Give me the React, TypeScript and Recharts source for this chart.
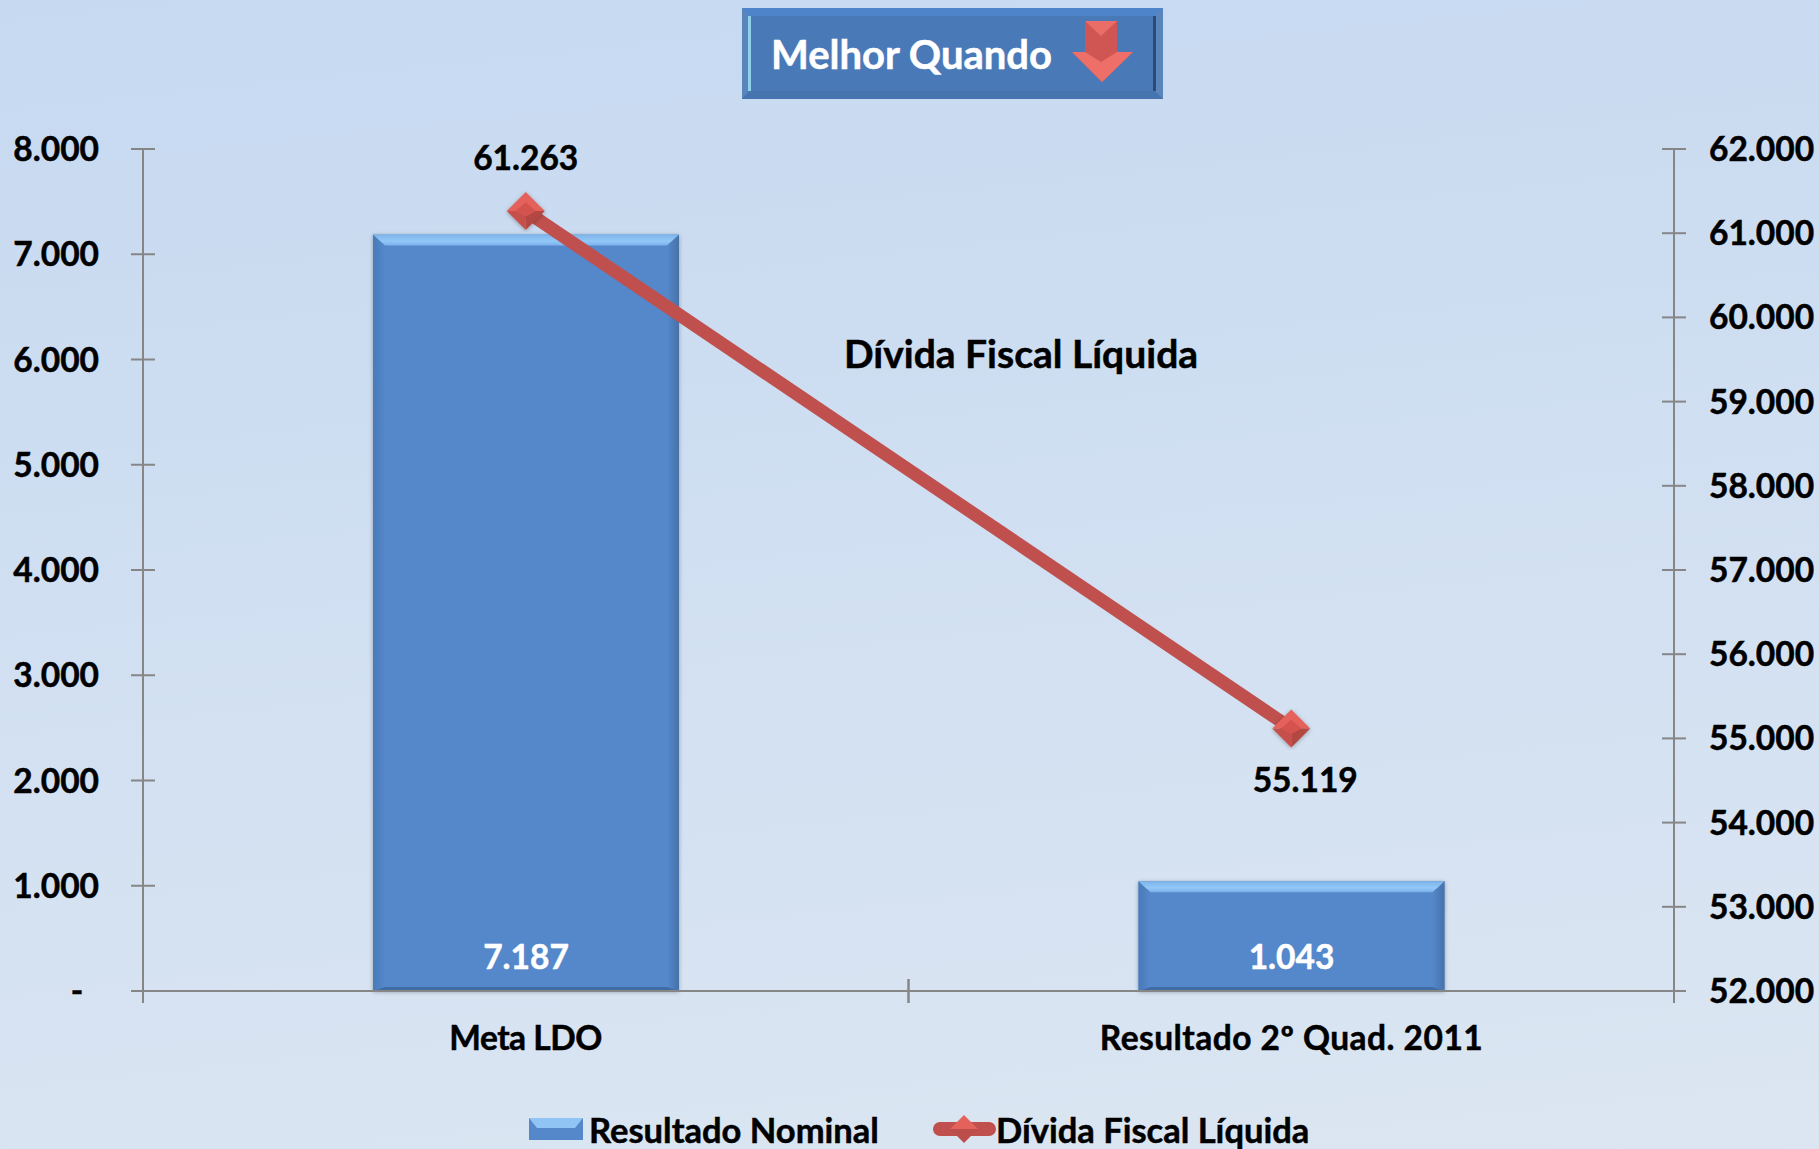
import { Bar, ComposedChart, LabelList, Legend, Line, XAxis, YAxis } from "recharts";

const WIDTH = 1819;
const HEIGHT = 1149;
const FONT = "Lato, sans-serif";
const THICK = { stroke: "#000", strokeWidth: 0.5 };

const categories = ["Meta LDO", "Resultado 2º Quad. 2011"];
const categoryWidths = [153, 383];
const resultadoNominal = [7187, 1043];
const dividaFiscal = [61263, 55119];
const leftTicks = [0, 1000, 2000, 3000, 4000, 5000, 6000, 7000, 8000];
const rightTicks = [52000, 53000, 54000, 55000, 56000, 57000, 58000, 59000, 60000, 61000, 62000];

const data = categories.map((name, i) => ({
    name,
    nominal: resultadoNominal[i],
    divida: dividaFiscal[i],
}));

const fmt = (v: number) => String(v).replace(/\B(?=(\d{3})+$)/g, ".");

function LeftTick({ x, y, payload }: any) {
    return (
        <g>
            <line x1={x - 12} x2={x + 12} y1={y} y2={y} stroke="#868686" strokeWidth={2} />
            <text
                x={payload.value === 0 ? x - 66 : x - 44}
                y={y}
                dy={12}
                textAnchor={payload.value === 0 ? "middle" : "end"}
                fontFamily={FONT}
                fontWeight={700}
                fontSize={33.5}
                fill="#000"
                {...THICK}
            >
                {payload.value === 0 ? "-" : fmt(payload.value)}
            </text>
        </g>
    );
}

function RightTick({ x, y, payload }: any) {
    return (
        <g>
            <line x1={x - 12} x2={x + 12} y1={y} y2={y} stroke="#868686" strokeWidth={2} />
            <text x={x + 35} y={y} dy={12} textAnchor="start" fontFamily={FONT} fontWeight={700} fontSize={33.5} fill="#000" {...THICK}>
                {fmt(payload.value)}
            </text>
        </g>
    );
}

function CategoryTick({ x, y, payload, index }: any) {
    const half = payload.offset ?? 0;
    return (
        <g>
            <line x1={x - half} x2={x - half} y1={y - 12} y2={y + 12} stroke="#868686" strokeWidth={2} />
            <line x1={x + half} x2={x + half} y1={y - 12} y2={y + 12} stroke="#868686" strokeWidth={2} />
            <text
                x={x}
                y={y}
                dy={59}
                textAnchor="middle"
                textLength={categoryWidths[index]}
                fontFamily={FONT}
                fontWeight={700}
                fontSize={33.5}
                fill="#000"
                {...THICK}
            >
                {payload.value}
            </text>
        </g>
    );
}

function BevelBar({ x, y, width, height }: any) {
    const t = Math.min(11, height / 4);
    const s = 12;
    const b = 4;
    const r = x + width;
    const e = y + height;
    return (
        <g filter="url(#barShadow)">
            <rect x={x} y={y} width={width} height={height} fill="#5587cb" />
            <polygon points={`${x},${y} ${x + s},${y + t} ${x + s},${e - b} ${x},${e}`} fill="url(#barLeft)" />
            <polygon points={`${r},${y} ${r - s},${y + t} ${r - s},${e - b} ${r},${e}`} fill="url(#barRight)" />
            <polygon points={`${x},${e} ${x + s},${e - b} ${r - s},${e - b} ${r},${e}`} fill="#3f6ca6" />
            <polygon points={`${x},${y} ${r},${y} ${r - s},${y + t} ${x + s},${y + t}`} fill="url(#barTop)" />
        </g>
    );
}

function Diamond({ cx, cy }: any) {
    const r = 19;
    return (
        <g filter="url(#barShadow)">
            <polygon points={`${cx - r},${cy} ${cx},${cy - r} ${cx + r},${cy}`} fill="#e5625c" />
            <polygon points={`${cx - r},${cy} ${cx},${cy + r} ${cx},${cy}`} fill="#c4504c" />
            <polygon points={`${cx + r},${cy} ${cx},${cy + r} ${cx},${cy}`} fill="#b34643" />
            <polygon points={`${cx - r * 0.55},${cy} ${cx},${cy - r * 0.45} ${cx + r * 0.55},${cy} ${cx},${cy + r * 0.3}`} fill="#d4534f" />
        </g>
    );
}

function BarValue({ x, y, width, height, value }: any) {
    return (
        <text x={x + width / 2} y={y + height - 22} textAnchor="middle" fontFamily={FONT} fontWeight={700} fontSize={33.5} fill="#fff" stroke="#fff" strokeWidth={0.5}>
            {fmt(value)}
        </text>
    );
}

function LineValue({ x, y, value, index }: any) {
    const first = index === 0;
    return (
        <text x={first ? x : x + 14} y={first ? y - 41 : y + 64} textAnchor="middle" fontFamily={FONT} fontWeight={700} fontSize={33.5} fill="#000" {...THICK}>
            {fmt(value)}
        </text>
    );
}

function LegendContent({ payload }: any) {
    const items = [...(payload || [])].sort((a: any) => (a.dataKey === "nominal" ? -1 : 1));
    return (
        <div
            style={{
                display: "flex",
                justifyContent: "flex-start",
                paddingLeft: 529,
                height: 40,
                alignItems: "center",
                fontFamily: FONT,
                fontWeight: 700,
                fontSize: 34.5,
                color: "#000",
                WebkitTextStroke: "0.5px #000",
            }}
        >
            {items.map((entry: any) =>
                entry.dataKey === "nominal" ? (
                    <div key="nominal" style={{ display: "flex", alignItems: "center", width: 404 }}>
                        <svg width={54} height={22} style={{ marginRight: 6 }}>
                            <rect width={54} height={22} fill="#5587cb" />
                            <polygon points="0,0 54,0 46,10 8,10" fill="#8fc4f5" />
                        </svg>
                        <span>{entry.value}</span>
                    </div>
                ) : (
                    <div key="divida" style={{ display: "flex", alignItems: "center" }}>
                        <svg width={63} height={28}>
                            <rect x={0} y={7} width={63} height={14} rx={7} fill="#c0504d" />
                            <polygon points="31,0 45,14 17,14" fill="#e5625c" />
                            <polygon points="17,14 45,14 31,28" fill="#bb4e4a" />
                        </svg>
                        <span>{entry.value}</span>
                    </div>
                )
            )}
        </div>
    );
}

function Overlay() {
    return (
        <svg width={WIDTH} height={HEIGHT} style={{ position: "absolute", left: 0, top: 0, pointerEvents: "none" }}>
            <rect x={742} y={8} width={421} height={91} fill="#5a85bb" />
            <polygon points="742,8 1163,8 1155,16 749,16" fill="#4e84ca" />
            <polygon points="742,99 1163,99 1155,91 749,91" fill="#4674ae" />
            <rect x={749} y={16} width={406} height={75} fill="#4a79b8" />
            <rect x={748} y={16} width={3} height={75} fill="#8fd0ea" />
            <rect x={1153} y={16} width={3} height={75} fill="#2b4a75" />
            <text x={771} y={69} fontFamily={FONT} fontWeight={700} fontSize={40} fill="#fff" stroke="#fff" strokeWidth={0.5}>Melhor Quando</text>
            <polygon points="1085,21 1117,21 1117,52 1133,52 1102,82 1072,52 1085,52" fill="#cf5652" />
            <polygon points="1085,21 1117,21 1101,36" fill="#ea6e67" />
            <polygon points="1072,52 1085,52 1101,62 1117,52 1133,52 1102,82" fill="#ee6f68" />
            <text x={1021} y={368} textAnchor="middle" fontFamily={FONT} fontWeight={700} fontSize={39} fill="#000" {...THICK}>Dívida Fiscal Líquida</text>
        </svg>
    );
}

export default function App() {
    return (
        <div
            style={{
                position: "fixed",
                left: 0,
                top: 0,
                width: WIDTH,
                height: HEIGHT,
                overflow: "hidden",
                background: "linear-gradient(174deg, #c6d9f1 0%, #dce6f2 100%)",
            }}
        >
            <ComposedChart
                width={WIDTH}
                height={HEIGHT}
                data={data}
                margin={{ top: 149, right: 0, bottom: 0, left: 0 }}
            >
                <defs>
                    <linearGradient id="barTop" x1="0" y1="0" x2="0" y2="1">
                        <stop offset="0%" stopColor="#7fb4ea" />
                        <stop offset="60%" stopColor="#92c7f8" />
                        <stop offset="100%" stopColor="#7bb0ea" />
                    </linearGradient>
                    <linearGradient id="barLeft" x1="0" y1="0" x2="1" y2="0">
                        <stop offset="0%" stopColor="#497ab8" />
                        <stop offset="100%" stopColor="#5587cb" />
                    </linearGradient>
                    <linearGradient id="barRight" x1="0" y1="0" x2="1" y2="0">
                        <stop offset="0%" stopColor="#5587cb" />
                        <stop offset="100%" stopColor="#4672a8" />
                    </linearGradient>
                    <filter id="barShadow" x="-5%" y="-5%" width="110%" height="110%">
                        <feDropShadow dx={0} dy={1} stdDeviation={2} floodColor="#000" floodOpacity={0.3} />
                    </filter>
                </defs>
                <XAxis
                    dataKey="name"
                    height={118}
                    tick={<CategoryTick />}
                    tickLine={false}
                    tickSize={0}
                    tickMargin={0}
                    axisLine={{ stroke: "#868686", strokeWidth: 2 }}
                    interval={0}
                />
                <YAxis
                    yAxisId="left"
                    width={143}
                    domain={[0, 8000]}
                    ticks={leftTicks}
                    tick={<LeftTick />}
                    tickLine={false}
                    tickSize={0}
                    tickMargin={0}
                    axisLine={{ stroke: "#868686", strokeWidth: 2 }}
                    interval={0}
                />
                <YAxis
                    yAxisId="right"
                    orientation="right"
                    width={145}
                    domain={[52000, 62000]}
                    ticks={rightTicks}
                    tick={<RightTick />}
                    tickLine={false}
                    tickSize={0}
                    tickMargin={0}
                    axisLine={{ stroke: "#868686", strokeWidth: 2 }}
                    interval={0}
                />
                <Legend height={40} verticalAlign="bottom" content={<LegendContent />} />
                <Bar
                    yAxisId="left"
                    dataKey="nominal"
                    name="Resultado Nominal"
                    fill="#5587cb"
                    barSize={306}
                    shape={<BevelBar />}
                    isAnimationActive={false}
                >
                    <LabelList dataKey="nominal" content={<BarValue />} />
                </Bar>
                <Line
                    yAxisId="right"
                    dataKey="divida"
                    name="Dívida Fiscal Líquida"
                    stroke="#c0504d"
                    strokeWidth={13}
                    dot={<Diamond />}
                    activeDot={false}
                    isAnimationActive={false}
                >
                    <LabelList dataKey="divida" content={<LineValue />} />
                </Line>
            </ComposedChart>
            <Overlay />
        </div>
    );
}
